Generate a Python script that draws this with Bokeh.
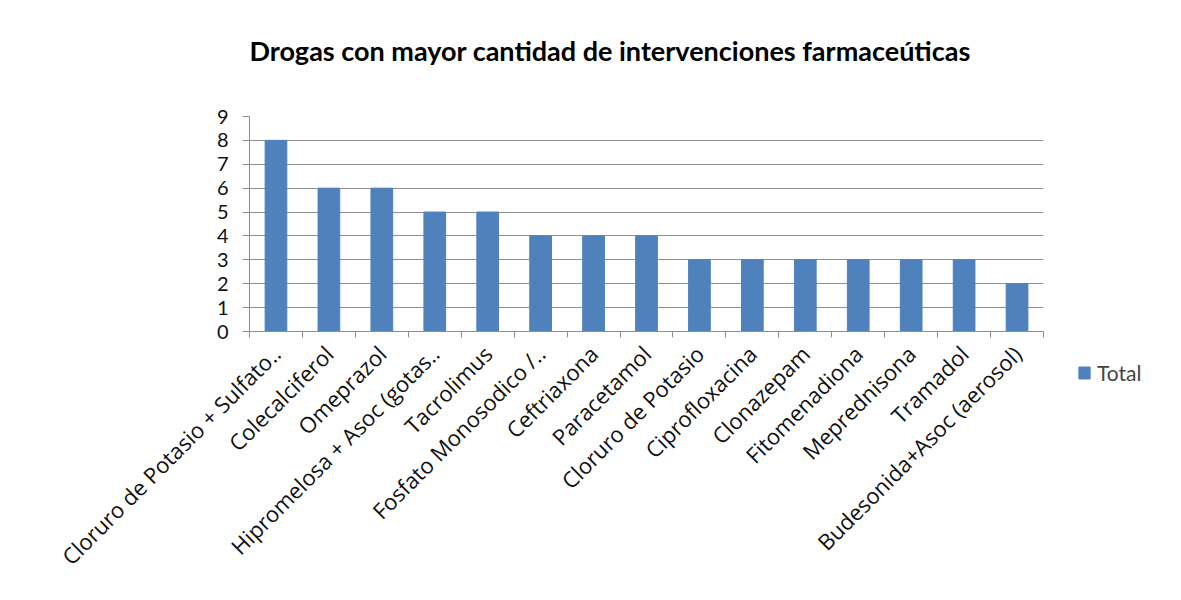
import math
from bokeh.plotting import figure
from bokeh.models import ColumnDataSource, FixedTicker, Range1d, Legend, LegendItem, Title
from bokeh.embed import file_html
from bokeh.resources import INLINE

categories = [
    "Cloruro de Potasio + Sulfato..",
    "Colecalciferol",
    "Omeprazol",
    "Hipromelosa + Asoc (gotas..",
    "Tacrolimus",
    "Fosfato Monosodico /..",
    "Ceftriaxona",
    "Paracetamol",
    "Cloruro de Potasio",
    "Ciprofloxacina",
    "Clonazepam",
    "Fitomenadiona",
    "Meprednisona",
    "Tramadol",
    "Budesonida+Asoc (aerosol)",
]
totals = [8, 6, 6, 5, 5, 4, 4, 4, 3, 3, 3, 3, 3, 3, 2]
y_ticks = [0, 1, 2, 3, 4, 5, 6, 7, 8, 9]
title_text = "Drogas con mayor cantidad de intervenciones farmaceúticas"
series_name = "Total"

BAR = "#4F81BD"
GRID = "#8e8e8e"

n = len(categories)
centers = [i + 0.5 for i in range(n)]
source = ColumnDataSource(dict(x=centers, top=totals, name=categories))

p = figure(
    frame_width=794, frame_height=215,
    output_backend="svg", toolbar_location=None,
    x_range=Range1d(0, n), y_range=Range1d(0, 9),
    min_border_left=249, min_border_right=138,
    min_border_top=116, min_border_bottom=269,
)
r = p.vbar(x="x", top="top", width=0.41, source=source, color=BAR)

# real title on top, a thin spacer title between it and the frame
p.title.text = title_text
p.title.text_font = "Lato"
p.title.text_font_style = "bold"
p.title.text_font_size = "27px"
p.title.align = "left"
p.title.text_color = "#000000"
p.title.standoff = 62

spacer = Title(text=" ", text_font_size="1px", standoff=16)
p.add_layout(spacer, "above")

# x axis
xa = p.xaxis[0]
xa.ticker = FixedTicker(ticks=centers, minor_ticks=list(range(n + 1)))
xa.major_label_overrides = {c: name for c, name in zip(centers, categories)}
xa.major_label_orientation = math.pi / 4
xa.major_tick_line_color = None
xa.minor_tick_line_color = GRID
xa.minor_tick_in = 0
xa.minor_tick_out = 6
xa.axis_line_color = GRID
xa.major_label_text_font = "Open Sans"
xa.major_label_text_font_size = "22px"
xa.major_label_text_color = "#111111"
xa.major_label_standoff = 12

# y axis
ya = p.yaxis[0]
ya.ticker = FixedTicker(ticks=y_ticks)
ya.major_tick_in = 0
ya.major_tick_out = 7
ya.major_tick_line_color = GRID
ya.minor_tick_line_color = None
ya.axis_line_color = GRID
ya.major_label_text_font = "Lato"
ya.major_label_text_font_size = "20px"
ya.major_label_text_color = "#111111"
ya.major_label_standoff = 14

p.xgrid.grid_line_color = None
p.ygrid.grid_line_color = GRID
p.ygrid.ticker = FixedTicker(ticks=y_ticks)
p.outline_line_color = None

legend = Legend(items=[LegendItem(label=series_name, renderers=[r])],
                location=(34, -54))
legend.label_text_font = "Lato"
legend.label_text_font_size = "21px"
legend.glyph_width = 14
legend.glyph_height = 15
legend.label_standoff = 6
legend.padding = 0
legend.margin = 0
legend.border_line_color = None
legend.background_fill_alpha = 0
p.add_layout(legend, "right")

open("out.html", "w").write(file_html(p, INLINE))
